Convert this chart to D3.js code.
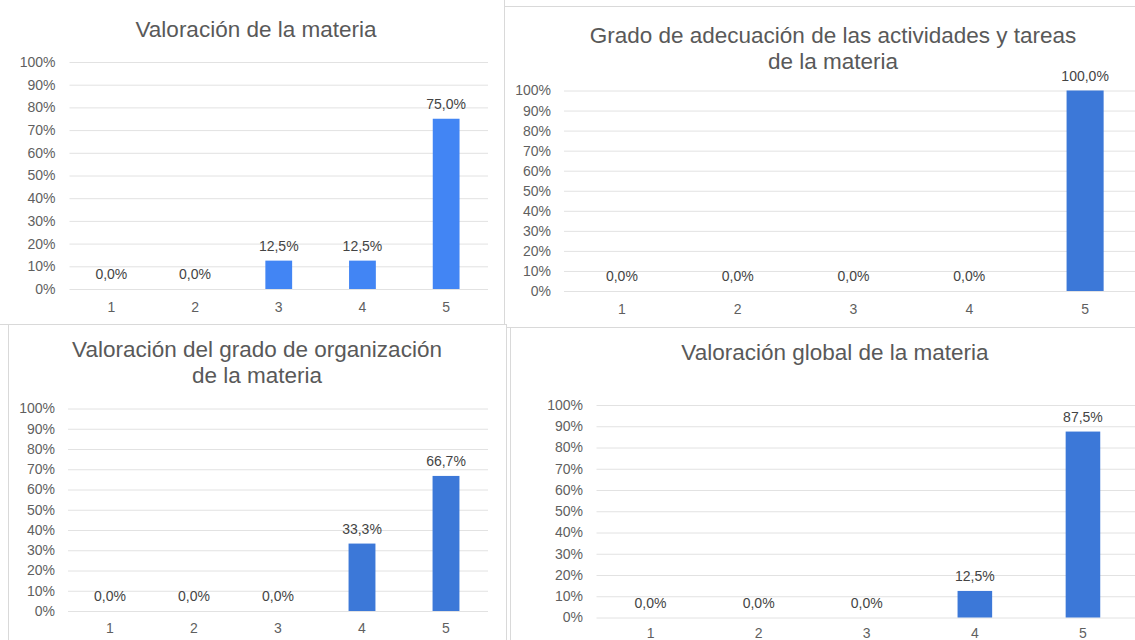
<!DOCTYPE html>
<html>
<head>
<meta charset="utf-8">
<script src="https://cdn.jsdelivr.net/npm/d3@7"></script>
<style>
  body { margin: 0; background: #fff; }
  svg { display: block; font-family: "Liberation Sans", Arial, sans-serif; }
</style>
</head>
<body>
<div id="chart-area"></div>
<script>
// data
var categories = ["1", "2", "3", "4", "5"]
var yTicks = [0, 10, 20, 30, 40, 50, 60, 70, 80, 90, 100]

var materiaValues = [0, 0, 12.5, 12.5, 75]
var actividadesValues = [0, 0, 0, 0, 100]
var organizacionValues = [0, 0, 0, 33.3, 66.7]
var globalValues = [0, 0, 0, 12.5, 87.5]

var materiaTitle = ["Valoración de la materia"]
var actividadesTitle = ["Grado de adecuación de las actividades y tareas", "de la materia"]
var organizacionTitle = ["Valoración del grado de organización", "de la materia"]
var globalTitle = ["Valoración global de la materia"]

var svg = d3.select("#chart-area").append("svg")
    .attr("width", 1135)
    .attr("height", 640)

// layout of each screenshot panel
var panels = [
  { values: materiaValues, title: materiaTitle, color: "#4285f4",
    box: [-10, -10, 514, 334], titleX: 256, titleY: 37,
    left: 69.5, right: 488, top: 62, bottom: 289, labelPad: 14, xPad: 13 },
  { values: actividadesValues, title: actividadesTitle, color: "#3c78d8",
    box: [504, 6, 700, 321], titleX: 833, titleY: 43,
    left: 564, right: 1143, top: 90.5, bottom: 291, labelPad: 13, xPad: 13 },
  { values: organizacionValues, title: organizacionTitle, color: "#3c78d8",
    box: [8, 324, 498, 400], titleX: 257, titleY: 357,
    left: 68, right: 488, top: 408.5, bottom: 611, labelPad: 13, xPad: 12 },
  { values: globalValues, title: globalTitle, color: "#3c78d8",
    box: [510, 327, 700, 400], titleX: 835, titleY: 360,
    left: 596.5, right: 1137, top: 405, bottom: 617.5, labelPad: 13.5, xPad: 11 }
]

panels.forEach(function(p){
  svg.append("rect")
    .attr("x", p.box[0] + 0.5)
    .attr("y", p.box[1] + 0.5)
    .attr("width", p.box[2])
    .attr("height", p.box[3])
    .attr("fill", "#fff")
    .attr("stroke", "#d9d9d9")
})

panels.forEach(function(p){
  var g = svg.append("g")
    .attr("transform", "translate(" + p.left + "," + p.top + ")")
  var width = p.right - p.left
  var height = p.bottom - p.top

  var x = d3.scaleBand()
    .domain(categories)
    .range([0, width])
    .paddingInner(0.68)
    .paddingOuter(0.34)

  var y = d3.scaleLinear()
    .domain([0, 100])
    .range([height, 0])

  // title
  var title = svg.append("text")
    .attr("x", p.titleX)
    .attr("y", p.titleY)
    .attr("text-anchor", "middle")
    .attr("fill", "#595959")
    .style("font-size", "22.5px")
  title.selectAll("tspan")
    .data(p.title)
    .enter().append("tspan")
      .attr("x", p.titleX)
      .attr("dy", function(d, i){ return i == 0 ? 0 : 26.3 })
      .text(function(d){ return d })

  // gridlines + y labels
  var yAxisCall = d3.axisLeft(y)
    .tickValues(yTicks)
    .tickSize(-width)
    .tickPadding(p.labelPad)
    .tickFormat(function(d){ return d + "%" })
  var yAxis = g.append("g")
    .attr("class", "y axis")
    .call(yAxisCall)
  yAxis.select(".domain").remove()
  yAxis.selectAll("line").attr("stroke", "#e2e2e2")
  yAxis.selectAll("text")
    .attr("fill", "#5f5f5f")
    .style("font-size", "14px")
    .style("font-family", "'Liberation Sans', Arial, sans-serif")

  // x labels
  var xAxisCall = d3.axisBottom(x)
    .tickSize(0)
    .tickPadding(p.xPad)
  var xAxis = g.append("g")
    .attr("class", "x axis")
    .attr("transform", "translate(0," + height + ")")
    .call(xAxisCall)
  xAxis.select(".domain").remove()
  xAxis.selectAll("text")
    .attr("fill", "#5f5f5f")
    .style("font-size", "14px")
    .style("font-family", "'Liberation Sans', Arial, sans-serif")

  var rows = categories.map(function(c, i){ return { cat: c, value: p.values[i] } })

  g.selectAll("rect.bar")
    .data(rows)
    .enter().append("rect")
      .attr("class", "bar")
      .attr("x", function(d){ return x(d.cat) })
      .attr("y", function(d){ return y(d.value) })
      .attr("width", x.bandwidth())
      .attr("height", function(d){ return height - y(d.value) })
      .attr("fill", p.color)

  g.selectAll("text.val")
    .data(rows)
    .enter().append("text")
      .attr("class", "val")
      .attr("x", function(d){ return x(d.cat) + x.bandwidth() / 2 })
      .attr("y", function(d){ return y(d.value) - 10 })
      .attr("text-anchor", "middle")
      .attr("fill", "#444")
      .style("font-size", "14px")
      .text(function(d){ return d.value.toFixed(1).replace(".", ",") + "%" })
})
</script>
</body>
</html>
